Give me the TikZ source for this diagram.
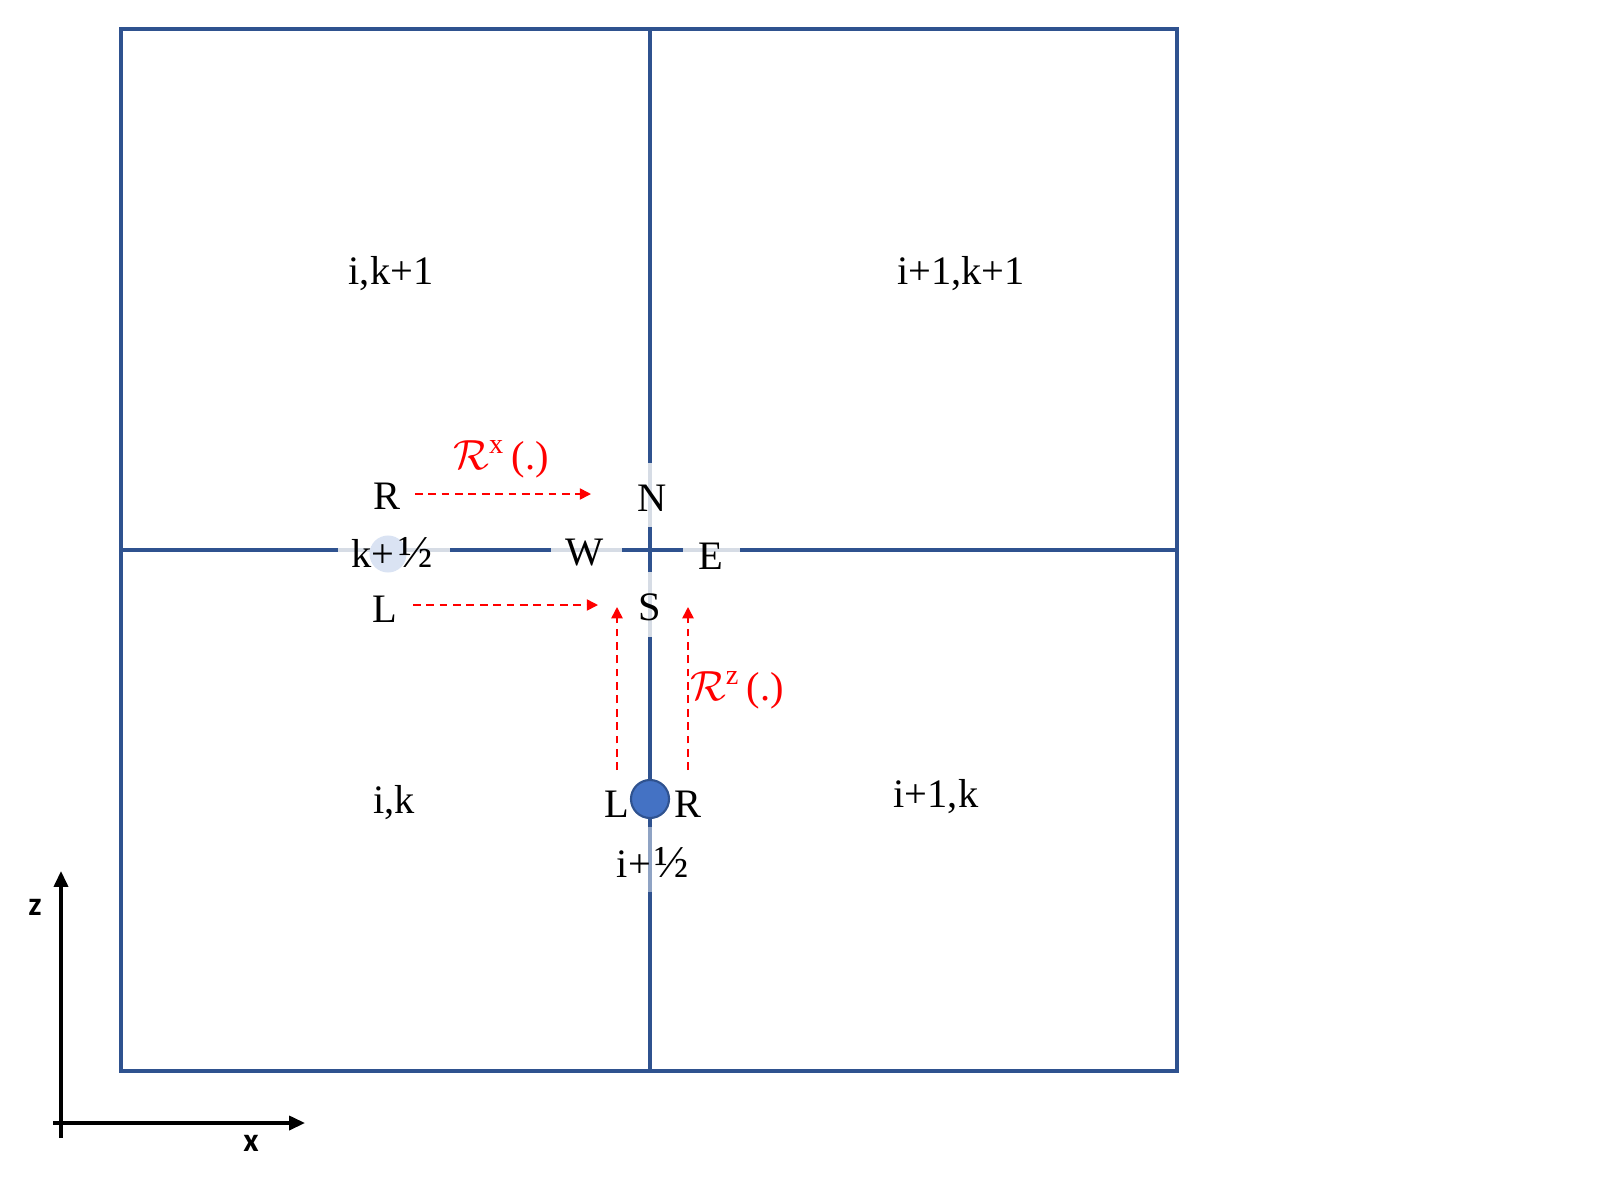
\documentclass[tikz,border=0pt]{standalone}
\usepackage{fontspec}
\setmainfont{Liberation Serif}
\newfontfamily\axisfont{Carlito}
\usetikzlibrary{arrows.meta}
\definecolor{gridblue}{HTML}{2F528F}
\definecolor{gaplight}{HTML}{D6DCE5}
\definecolor{gapmid}{HTML}{8FA3C4}
\definecolor{circlight}{HTML}{DAE3F3}
\definecolor{circblue}{HTML}{4472C4}
\newcommand{\bighalf}{\kern0.1em{\fontsize{13}{13}\selectfont ½}}
\tikzset{
  gridline/.style={draw=gridblue, line width=0.9pt},
  gapline/.style={draw=gaplight, line width=0.9pt},
  lbl/.style={inner sep=0pt, font=\fontsize{11.5}{14}\selectfont},
  redlbl/.style={inner sep=0pt, text=red, font=\fontsize{11.5}{14}\selectfont},
  rarrow/.style={draw=red, dashed, line width=0.45pt, dash pattern=on 2.2pt off 1.6pt, -{Triangle[length=3.2pt,width=3.2pt]}},
  axarrow/.style={draw=black, line width=0.9pt, -{Triangle[length=4.5pt,width=4pt]}},
  axlbl/.style={inner sep=0pt, font=\axisfont\bfseries\fontsize{9.5}{11}\selectfont}
}
\begin{document}
\begin{tikzpicture}[x=0.01cm,y=-0.01cm]
\useasboundingbox (0,0) rectangle (1600,1200);
% grid
\draw[gridline] (121,29) rectangle (1177,1071);
\draw[gridline] (650,29) -- (650,1071);
\draw[gridline] (121,550) -- (1177,550);
% light gaps
\draw[gapline] (338,550) -- (450,550);
\draw[gapline] (551,550) -- (622,550);
\draw[gapline] (683,550) -- (740,550);
\draw[gapline] (650,463) -- (650,527);
\draw[gapline] (650,572) -- (650,637);
\draw[draw=gapmid, line width=0.9pt] (650,827) -- (650,892);
% circles
\node[circle, fill=circlight, minimum size=0.37cm, inner sep=0pt] (kc) at (388,554) {};
\node[circle, fill=circblue, draw=gridblue, line width=0.6pt, minimum size=0.38cm, inner sep=0pt] (ic) at (650,799) {};
% cell labels
\node[lbl] (c1) at (391,274) {i,k+1};
\node[lbl] (c2) at (961,274) {i+1,k+1};
\node[lbl] (c3) at (394,803) {i,k};
\node[lbl] (c4) at (936,797) {i+1,k};
% face labels
\node[lbl] (kh) at (392,552) {k+\bighalf};
\node[lbl] (Rx) at (387,496) {R};
\node[lbl] (Lx) at (385,609) {L};
\node[lbl] (W) at (585,553) {W};
\node[lbl] (N) at (652,498) {N};
\node[lbl] (E) at (711,556) {E};
\node[lbl] (S) at (650,607) {S};
\node[lbl] (Lz) at (617,804) {L};
\node[lbl] (Rz) at (688,804) {R};
\node[lbl] (ih) at (653,862) {i+\bighalf};
\node[redlbl] (opx) at (501,459) {$\mathcal{R}^{\mathrm{x}}$\,(.)};
\node[redlbl] (opz) at (737,690) {$\mathcal{R}^{\mathrm{z}}$\,(.)};
% red arrows
\coordinate (a1s) at (415,494); \coordinate (a1e) at (591,494);
\coordinate (a2s) at (413,605); \coordinate (a2e) at (598,605);
\coordinate (a3s) at (617,770); \coordinate (a3e) at (617,607);
\coordinate (a4s) at (688,770); \coordinate (a4e) at (688,607);
\draw[rarrow] (a1s) -- (a1e);
\draw[rarrow] (a2s) -- (a2e);
\draw[rarrow] (a3s) -- (a3e);
\draw[rarrow] (a4s) -- (a4e);
% axes
\coordinate (o1) at (61,1138);
\coordinate (zt) at (61,871);
\coordinate (o2) at (53,1123);
\coordinate (xt) at (305,1123);
\draw[axarrow] (o1) -- (zt);
\draw[axarrow] (o2) -- (xt);
\node[axlbl] (zl) at (35,907) {z};
\node[axlbl] (xl) at (251,1143) {x};
\end{tikzpicture}
\end{document}
